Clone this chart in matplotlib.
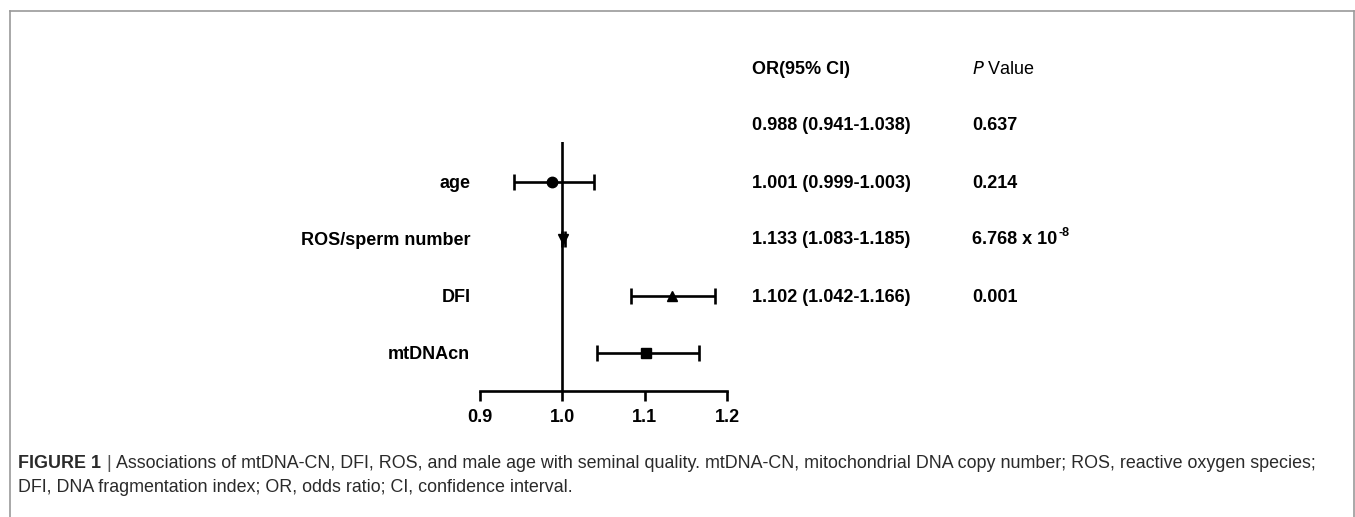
import matplotlib
matplotlib.use("Agg")
import matplotlib.pyplot as plt
from matplotlib.lines import Line2D

plt.rcParams['font.family'] = ['Liberation Sans', 'DejaVu Sans']
plt.rcParams['mathtext.default'] = 'regular'

# ---- data ----
labels = ["age", "ROS/sperm number", "DFI", "mtDNAcn"]
or_vals = [0.988, 1.001, 1.133, 1.102]
ci_low = [0.941, 0.999, 1.083, 1.042]
ci_high = [1.038, 1.003, 1.185, 1.166]
markers = ["o", "v", "^", "s"]
or_text = ["0.988 (0.941-1.038)", "1.001 (0.999-1.003)",
           "1.133 (1.083-1.185)", "1.102 (1.042-1.166)"]
p_base = ["0.637", "0.214", "6.768 x 10", "0.001"]
p_sup = ["", "", "-8", ""]
xticks = [0.9, 1.0, 1.1, 1.2]
xticklabels = ["0.9", "1.0", "1.1", "1.2"]

W, H = 1355, 517
fig = plt.figure(figsize=(W / 100, H / 100), dpi=100)

# frame around figure area
frame_col = "#9a9a9a"
fig.add_artist(Line2D([10 / W, 10 / W], [0, 1 - 11 / H], color=frame_col, lw=1.2, transform=fig.transFigure))
fig.add_artist(Line2D([10 / W, 1354 / W], [1 - 11 / H, 1 - 11 / H], color=frame_col, lw=1.2, transform=fig.transFigure))
fig.add_artist(Line2D([1354 / W, 1354 / W], [0, 1 - 11 / H], color=frame_col, lw=1.2, transform=fig.transFigure))

# axes: x from 480 to 727 px, y from 142 to 391 px
ax_l, ax_r, ax_t, ax_b = 480, 727, 142, 391
ax = fig.add_axes([ax_l / W, 1 - ax_b / H, (ax_r - ax_l) / W, (ax_b - ax_t) / H])
ax.set_xlim(0.9, 1.2)
ax.set_ylim(0.333, 4.70)
ypos = [4, 3, 2, 1]

LW = 1.9
for y, o, lo, hi, m in zip(ypos, or_vals, ci_low, ci_high, markers):
    ax.errorbar([o], [y], xerr=[[o - lo], [hi - o]], fmt=m, color="black",
                ms=7.5 if m != "v" else 6.5, capsize=6, capthick=LW, elinewidth=LW, zorder=3)

ax.axvline(1.0, color="black", lw=LW, zorder=2)

for s in ["left", "top", "right"]:
    ax.spines[s].set_visible(False)
ax.spines["bottom"].set_linewidth(LW)
ax.set_xticks(xticks)
ax.set_xticklabels(xticklabels, fontsize=13, fontweight="bold")
ax.tick_params(axis="x", direction="out", length=7, width=LW, pad=6)
ax.set_yticks(ypos)
ax.set_yticklabels(labels, fontsize=13, fontweight="bold")
ax.tick_params(axis="y", length=0, pad=7)

# table text
def fx(px):
    return px / W

def fy(py):
    return 1 - py / H

renderer = fig.canvas.get_renderer()
fig.text(fx(752), fy(70), "OR(95% CI)", fontsize=13, fontweight="bold", va="center", ha="left")
fig.text(fx(972), fy(70), "$\\it{P}$ Value", fontsize=13, va="center", ha="left")
row_y = [126, 183, 240, 297]
for y, ot, pb, ps in zip(row_y, or_text, p_base, p_sup):
    fig.text(fx(752), fy(y), ot, fontsize=13, fontweight="bold", va="center", ha="left")
    tb = fig.text(fx(972), fy(y), pb, fontsize=13, fontweight="bold", va="center", ha="left")
    if ps:
        bb = tb.get_window_extent(renderer)
        fig.text(bb.x1 / W + 1 / W, fy(y - 7), ps, fontsize=9, fontweight="bold", va="center", ha="left")

# caption
cap_col = "#2a2a2a"
CS = 12.9
t1 = fig.text(fx(18), fy(464), "FIGURE 1", fontsize=CS, fontweight="bold", color=cap_col, va="center", ha="left")
bb = t1.get_window_extent(renderer)
t2 = fig.text(bb.x1 / W + 5 / W, fy(464), "|", fontsize=CS, color="#555555", va="center", ha="left")
bb2 = t2.get_window_extent(renderer)
fig.text(bb2.x1 / W + 5 / W, fy(464),
         "Associations of mtDNA-CN, DFI, ROS, and male age with seminal quality. mtDNA-CN, mitochondrial DNA copy number; ROS, reactive oxygen species;",
         fontsize=CS, color=cap_col, va="center", ha="left")
fig.text(fx(18), fy(487), "DFI, DNA fragmentation index; OR, odds ratio; CI, confidence interval.",
         fontsize=CS, color=cap_col, va="center", ha="left")

fig.savefig("out.png", dpi=100, facecolor="white")
